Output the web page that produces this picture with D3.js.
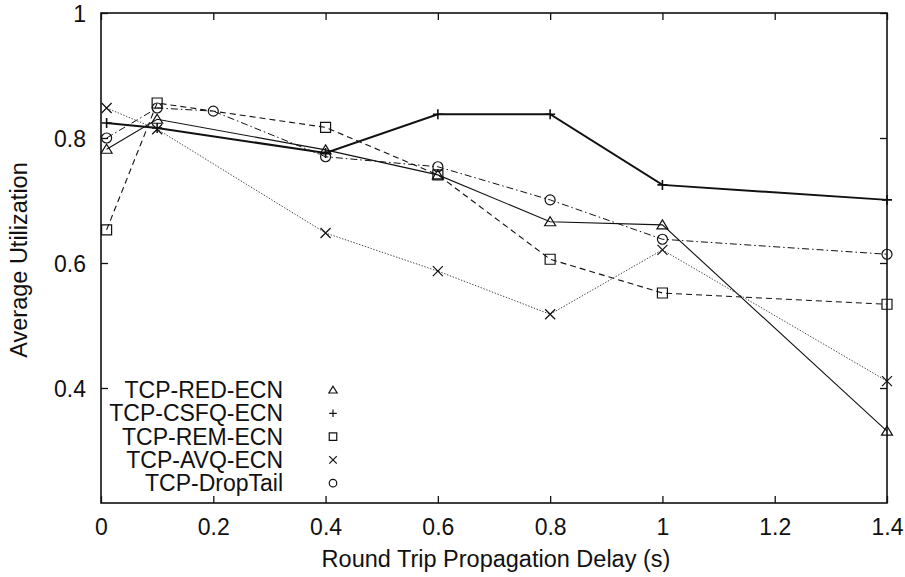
<!DOCTYPE html>
<html>
<head>
<meta charset="utf-8">
<script src="https://cdn.jsdelivr.net/npm/d3@7"></script>
<style>
  body { margin: 0; background: #fff; }
  svg { display: block; font-family: "Liberation Sans", Arial, Helvetica, sans-serif; }
</style>
</head>
<body>
<script>
'use strict';

// delays (s) used for every scheme
const delays = [0.01, 0.1, 0.4, 0.6, 0.8, 1.0, 1.4];
// DropTail also has a run at 0.2 s
const delaysDropTail = [0.01, 0.1, 0.2, 0.4, 0.6, 0.8, 1.0, 1.4];

const redEcn   = [0.782, 0.830, 0.781, 0.741, 0.666, 0.661, 0.331];
const csfqEcn  = [0.824, 0.816, 0.776, 0.838, 0.838, 0.725, 0.701];
const remEcn   = [0.653, 0.856, 0.817, 0.741, 0.606, 0.552, 0.534];
const avqEcn   = [0.848, 0.814, 0.648, 0.587, 0.518, 0.621, 0.411];
const dropTail = [0.800, 0.848, 0.843, 0.770, 0.754, 0.701, 0.638, 0.614];

const xTicks = [0, 0.2, 0.4, 0.6, 0.8, 1, 1.2, 1.4];
const yTicks = [0.4, 0.6, 0.8, 1];

const seriesNames = ['TCP-RED-ECN', 'TCP-CSFQ-ECN', 'TCP-REM-ECN', 'TCP-AVQ-ECN', 'TCP-DropTail'];

const series = [
  { name: seriesNames[0], xs: delays, ys: redEcn,   marker: 'triangle', width: 1.1, dash: null,          color: '#111' },
  { name: seriesNames[1], xs: delays, ys: csfqEcn,  marker: 'plus',     width: 2,   dash: null,          color: '#111' },
  { name: seriesNames[2], xs: delays, ys: remEcn,   marker: 'square',   width: 1.1, dash: '6,4',         color: '#111' },
  { name: seriesNames[3], xs: delays, ys: avqEcn,   marker: 'cross',    width: 1,   dash: '1.4,1.6',     color: '#444' },
  { name: seriesNames[4], xs: delaysDropTail, ys: dropTail, marker: 'circle', width: 1, dash: '7,3,1.5,3', color: '#111' }
];

const width = 905, height = 577;
const margin = { left: 101, right: 18, top: 13, bottom: 74 };
const fontSize = 23;

const svg = d3.select('body').append('svg')
  .attr('width', width)
  .attr('height', height);

const x = d3.scaleLinear().domain([0, 1.4]).range([margin.left, width - margin.right]);
const y = d3.scaleLinear().domain([0.216, 1]).range([height - margin.bottom, margin.top]);

// axes (ticks pointing inward, mirrored on top/right)
const tickLen = 7;
const gx = svg.append('g')
  .attr('transform', `translate(0,${height - margin.bottom})`)
  .call(d3.axisBottom(x).tickValues(xTicks).tickSizeInner(-tickLen).tickSizeOuter(0).tickPadding(16)
    .tickFormat(d3.format('~g')));
const gxTop = svg.append('g')
  .attr('transform', `translate(0,${margin.top})`)
  .call(d3.axisTop(x).tickValues(xTicks).tickSizeInner(-tickLen).tickSizeOuter(0).tickFormat(''));
const gy = svg.append('g')
  .attr('transform', `translate(${margin.left},0)`)
  .call(d3.axisLeft(y).tickValues(yTicks).tickSizeInner(-tickLen).tickSizeOuter(0).tickPadding(15)
    .tickFormat(d3.format('~g')));
const gyRight = svg.append('g')
  .attr('transform', `translate(${width - margin.right},0)`)
  .call(d3.axisRight(y).tickValues(yTicks).tickSizeInner(-tickLen).tickSizeOuter(0).tickFormat(''));

[gx, gxTop, gy, gyRight].forEach(g => {
  g.select('.domain').remove();
  g.selectAll('line').attr('stroke', '#111').attr('stroke-width', 1.3);
  g.selectAll('text').attr('fill', '#111').attr('font-size', fontSize)
    .attr('font-family', '"Liberation Sans", Arial, Helvetica, sans-serif');
});
gy.selectAll('text').attr('dy', '0.36em');

// frame
svg.append('rect')
  .attr('x', x(0)).attr('y', y(1))
  .attr('width', x(1.4) - x(0)).attr('height', y(0.216) - y(1))
  .attr('fill', 'none').attr('stroke', '#111').attr('stroke-width', 1.6);

// axis titles
svg.append('text')
  .attr('x', 496).attr('y', 567)
  .attr('text-anchor', 'middle').attr('font-size', 23.5).attr('fill', '#111')
  .text('Round Trip Propagation Delay (s)');
svg.append('text')
  .attr('transform', `translate(27,${260}) rotate(-90)`)
  .attr('text-anchor', 'middle').attr('font-size', 23.5).attr('fill', '#111')
  .text('Average Utilization');

// marker paths
function markerPath(type, s) {
  const h = s / 2;
  switch (type) {
    case 'triangle': return `M0,${-h}L${h * 1.1},${h * 0.8}L${-h * 1.1},${h * 0.8}Z`;
    case 'plus': return `M${-h},0H${h}M0,${-h}V${h}`;
    case 'square': return `M${-h},${-h}H${h}V${h}H${-h}Z`;
    case 'cross': return `M${-h},${-h}L${h},${h}M${h},${-h}L${-h},${h}`;
    case 'circle': return `M${h},0A${h},${h} 0 1,1 ${-h},0A${h},${h} 0 1,1 ${h},0Z`;
  }
}

const line = d3.line().x(d => x(d[0])).y(d => y(d[1]));

series.forEach(s => {
  const pts = s.xs.map((v, i) => [v, s.ys[i]]);
  svg.append('path')
    .datum(pts)
    .attr('d', line)
    .attr('fill', 'none')
    .attr('stroke', s.color)
    .attr('stroke-width', s.width)
    .attr('stroke-dasharray', s.dash);
  svg.append('g').selectAll('path')
    .data(pts)
    .join('path')
      .attr('transform', d => `translate(${x(d[0])},${y(d[1])})`)
      .attr('d', markerPath(s.marker, 10))
      .attr('fill', 'none')
      .attr('stroke', '#111')
      .attr('stroke-width', s.marker === 'plus' ? 1.6 : 1.2);
});

// legend
const legend = svg.append('g');
seriesNames.forEach((name, i) => {
  const cy = 390 + i * 23.3;
  legend.append('text')
    .attr('x', 283).attr('y', cy + 8)
    .attr('text-anchor', 'end').attr('font-size', fontSize).attr('fill', '#111')
    .text(name);
  legend.append('path')
    .attr('transform', `translate(333,${cy})`)
    .attr('d', markerPath(series[i].marker, 7.5))
    .attr('fill', 'none').attr('stroke', '#111').attr('stroke-width', 1.2);
});
</script>
</body>
</html>
